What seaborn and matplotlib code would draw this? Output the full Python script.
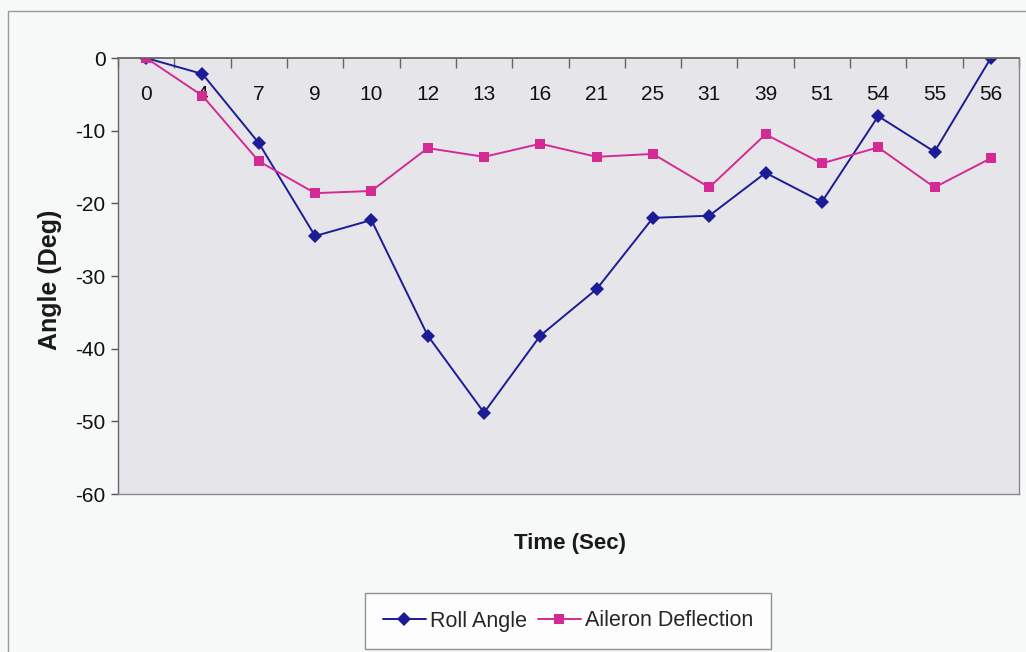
import matplotlib
matplotlib.use("Agg")
import matplotlib.pyplot as plt
import seaborn as sns
import pandas as pd
import numpy as np
from matplotlib.patches import Rectangle
from matplotlib.ticker import FixedLocator

# ---- data ----
times = ["0", "4", "7", "9", "10", "12", "13", "16", "21", "25", "31", "39", "51", "54", "55", "56"]
roll_angle = [0, -2.2, -11.7, -24.5, -22.3, -38.2, -48.8, -38.2, -31.8, -22.0, -21.7, -15.8, -19.8, -8.0, -12.9, 0]
aileron_deflection = [0, -5.2, -14.2, -18.6, -18.3, -12.4, -13.6, -11.8, -13.6, -13.2, -17.8, -10.5, -14.5, -12.3, -17.8, -13.8]
series_names = ["Roll Angle", "Aileron Deflection"]
y_ticks = [0, -10, -20, -30, -40, -50, -60]

df = pd.DataFrame({
    "Time": times * 2,
    "Angle": roll_angle + aileron_deflection,
    "Series": [series_names[0]] * len(times) + [series_names[1]] * len(times),
})

sns.set_theme(style="white")
FONT = ["Liberation Sans Narrow", "Liberation Sans", "DejaVu Sans"]
plt.rcParams["font.family"] = FONT

fig = plt.figure(figsize=(10.26, 6.52), dpi=100, facecolor="#f7f8f8")
ax = fig.add_axes([118 / 1026, 1 - 494 / 652, (1019 - 118) / 1026, 436 / 652])
ax.set_facecolor("#e6e6ea")

# outer frame
fig.patches.append(Rectangle((8 / 1026, -0.1), 1.2, 1 - 11 / 652 + 0.1,
                             transform=fig.transFigure, fill=False,
                             edgecolor="#9a9a9a", linewidth=1.0))

palette = {"Roll Angle": "#1c1c96", "Aileron Deflection": "#d42a94"}
markers = {"Roll Angle": "D", "Aileron Deflection": "s"}
sns.lineplot(data=df, x="Time", y="Angle", hue="Series", style="Series",
             palette=palette, markers=markers, dashes=False, sort=False,
             linewidth=1.4, markersize=7, markeredgewidth=0, ax=ax)

ax.set_xlim(-0.5, len(times) - 0.5)
ax.set_ylim(-60, 0)
ax.set_yticks(y_ticks)
ax.set_yticklabels([str(v) for v in y_ticks], fontsize=15)

# x tick labels inside, under the zero line
ax.xaxis.set_major_locator(FixedLocator(np.arange(len(times))))
ax.set_xticklabels(times, fontsize=15)
ax.tick_params(axis="x", which="major", top=True, labeltop=True, bottom=False,
               labelbottom=False, length=0, pad=-33, colors="#111111")
ax.xaxis.set_minor_locator(FixedLocator(np.arange(len(times) + 1) - 0.5))
ax.tick_params(axis="x", which="minor", top=True, bottom=False, direction="in",
               length=7, width=1.0, color="#666666")
ax.tick_params(axis="y", which="major", left=True, direction="out", length=5,
               width=1.0, color="#555555", pad=4, labelcolor="#111111")

for side, sp in ax.spines.items():
    sp.set_visible(True)
    sp.set_color("#8a8a8a")
    sp.set_linewidth(1.0)
ax.spines["top"].set_color("#666666")
ax.spines["top"].set_linewidth(1.3)
ax.spines["left"].set_color("#666666")

ax.set_xlabel("")
ax.set_ylabel("")
fig.text(50 / 1026, 1 - 280 / 652, "Angle (Deg)", rotation=90, ha="center", va="center",
         fontsize=18, fontweight="bold", color="#1a1a1a", family=FONT)
fig.text(570 / 1026, 1 - 543 / 652, "Time (Sec)", ha="center", va="center",
         fontsize=16, fontweight="bold", color="#1a1a1a", family=FONT)

handles, labels = ax.get_legend_handles_labels()
ax.get_legend().remove()
leg = fig.legend(handles, labels, loc="center", bbox_to_anchor=(568 / 1026, 1 - 621 / 652),
                 ncol=2, frameon=True, fancybox=False, fontsize=15.5,
                 handlelength=2.0, handletextpad=0.2, columnspacing=0.5,
                 borderpad=0.8, borderaxespad=0.0, edgecolor="#777777")
leg.get_frame().set_facecolor("white")
leg.get_frame().set_linewidth(1.0)

fig.savefig("out.png", dpi=100, facecolor=fig.get_facecolor())
